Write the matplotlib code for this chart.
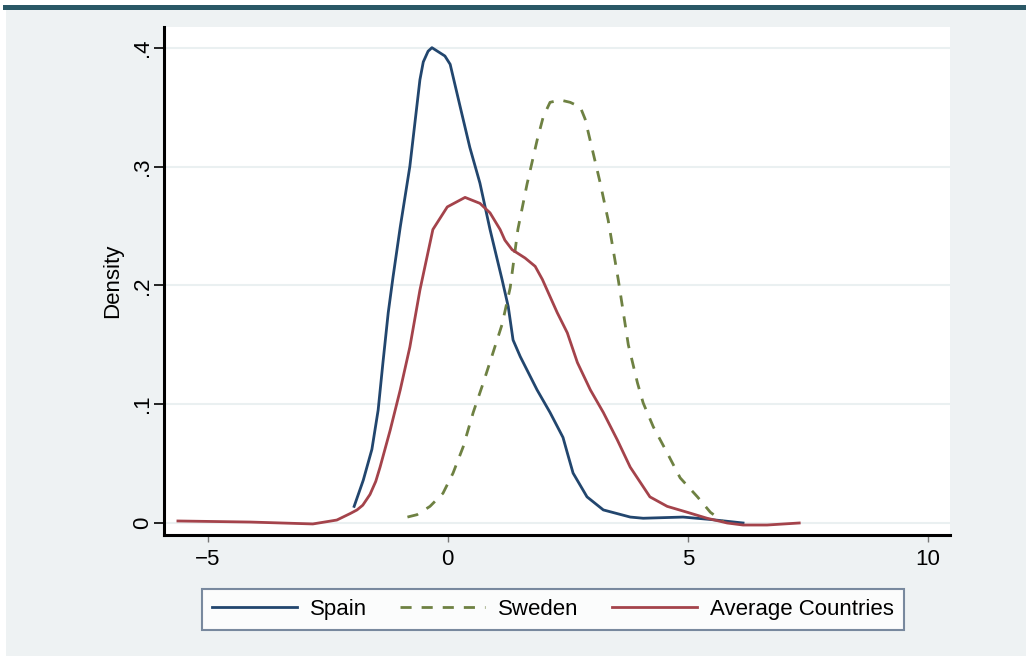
import matplotlib.pyplot as plt
from matplotlib.patches import Rectangle

plt.rcParams["font.family"] = ["Liberation Sans", "DejaVu Sans"]

# kernel density curves
spain_x = [-1.95, -1.76, -1.58, -1.45, -1.35, -1.24, -1.14, -0.99, -0.79, -0.58,
           -0.51, -0.41, -0.33, -0.06, 0.05, 0.26, 0.46, 0.67, 0.88, 1.13,
           1.26, 1.36, 1.51, 1.86, 2.13, 2.40, 2.49, 2.61, 2.90, 3.24,
           3.80, 4.07, 4.90, 5.46, 6.15]
spain_y = [0.014, 0.036, 0.062, 0.095, 0.135, 0.177, 0.207, 0.249, 0.300, 0.373,
           0.388, 0.397, 0.400, 0.393, 0.386, 0.350, 0.316, 0.286, 0.247, 0.205,
           0.182, 0.154, 0.140, 0.112, 0.093, 0.072, 0.059, 0.042, 0.022, 0.011,
           0.005, 0.004, 0.005, 0.003, 0.000]

sweden_x = [-0.84, -0.64, -0.37, -0.10, 0.11, 0.32, 0.53, 0.74, 0.94, 1.13,
            1.30, 1.46, 1.65, 1.86, 1.99, 2.13, 2.34, 2.55, 2.76, 2.86,
            3.03, 3.17, 3.34, 3.55, 3.76, 3.95, 4.07, 4.28, 4.57, 4.84,
            5.20, 5.47, 5.74]
sweden_y = [0.005, 0.007, 0.014, 0.025, 0.042, 0.064, 0.093, 0.118, 0.143, 0.167,
            0.198, 0.247, 0.285, 0.322, 0.342, 0.354, 0.356, 0.354, 0.350, 0.340,
            0.311, 0.287, 0.255, 0.205, 0.150, 0.118, 0.101, 0.081, 0.059, 0.038,
            0.022, 0.009, 0.001]

avg_x = [-5.62, -4.11, -2.81, -2.31, -2.03, -1.89, -1.77, -1.62, -1.50, -1.41,
         -1.20, -0.99, -0.79, -0.58, -0.31, -0.01, 0.36, 0.67, 0.88,
         1.09, 1.19, 1.34, 1.61, 1.82, 1.97, 2.28, 2.49, 2.70, 2.97,
         3.24, 3.53, 3.80, 4.21, 4.57, 4.99, 5.40, 5.82, 6.15, 6.65, 7.32]
avg_y = [0.0017, 0.0008, -0.0008, 0.0025, 0.008, 0.011, 0.015, 0.024, 0.035, 0.047,
         0.078, 0.112, 0.148, 0.196, 0.247, 0.266, 0.274, 0.269, 0.261,
         0.247, 0.238, 0.230, 0.223, 0.216, 0.205, 0.177, 0.160, 0.135, 0.112,
         0.093, 0.070, 0.047, 0.022, 0.014, 0.009, 0.004, 0.000, -0.0017, -0.0017, 0.000]

x_ticks = [-5, 0, 5, 10]
y_ticks = [0, 0.1, 0.2, 0.3, 0.4]
y_labels = ["0", ".1", ".2", ".3", ".4"]

fig = plt.figure(figsize=(10.26, 6.56), dpi=100, facecolor="white")
W, H = 1026, 656
fig.patches.append(Rectangle((6 / W, 0), 1, 1 - 10 / H, transform=fig.transFigure,
                             facecolor="#eef2f3", edgecolor="none", zorder=-10))
fig.patches.append(Rectangle((3 / W, 1 - 10 / H), 1, 5 / H, transform=fig.transFigure,
                             facecolor="#2a5866", edgecolor="none", zorder=-9))

ax = fig.add_axes([164 / W, 1 - 535 / H, 786 / W, 508 / H])
ax.set_facecolor("white")

ax.plot(spain_x, spain_y, color="#22466e", lw=2.0, label="Spain")
ax.plot(sweden_x, sweden_y, color="#6e8142", lw=2.0, dashes=(4, 3.6), label="Sweden")
ax.plot(avg_x, avg_y, color="#a4434b", lw=2.0, label="Average Countries")

ax.set_xlim(-5.91, 10.46)
ax.set_ylim(-0.0101, 0.4174)
ax.set_xticks(x_ticks)
ax.set_yticks(y_ticks)
ax.set_yticklabels(y_labels, rotation=90, va="center")
ax.tick_params(axis="y", length=7, width=1.2, labelsize=16, pad=1)
ax.tick_params(axis="x", length=5, width=1.0, color="#777777", labelsize=16, pad=5)
ax.grid(axis="y", color="#eaf0f1", lw=1.5)
ax.set_axisbelow(True)

for side in ["top", "right"]:
    ax.spines[side].set_visible(False)
for side in ["left", "bottom"]:
    ax.spines[side].set_linewidth(2.2)
    ax.spines[side].set_color("black")

ax.set_ylabel("Density", fontsize=16, labelpad=6)

leg = fig.legend(loc="center", bbox_to_anchor=(553 / W, 1 - 609.5 / H), ncol=3,
                 fontsize=16, frameon=True, fancybox=False, handlelength=3.8,
                 handletextpad=0.6, columnspacing=1.5, borderpad=0.45)
leg.get_frame().set_edgecolor("#5a6e88")
leg.get_frame().set_linewidth(1.5)

fig.savefig("out.png", dpi=100, facecolor=fig.get_facecolor())
